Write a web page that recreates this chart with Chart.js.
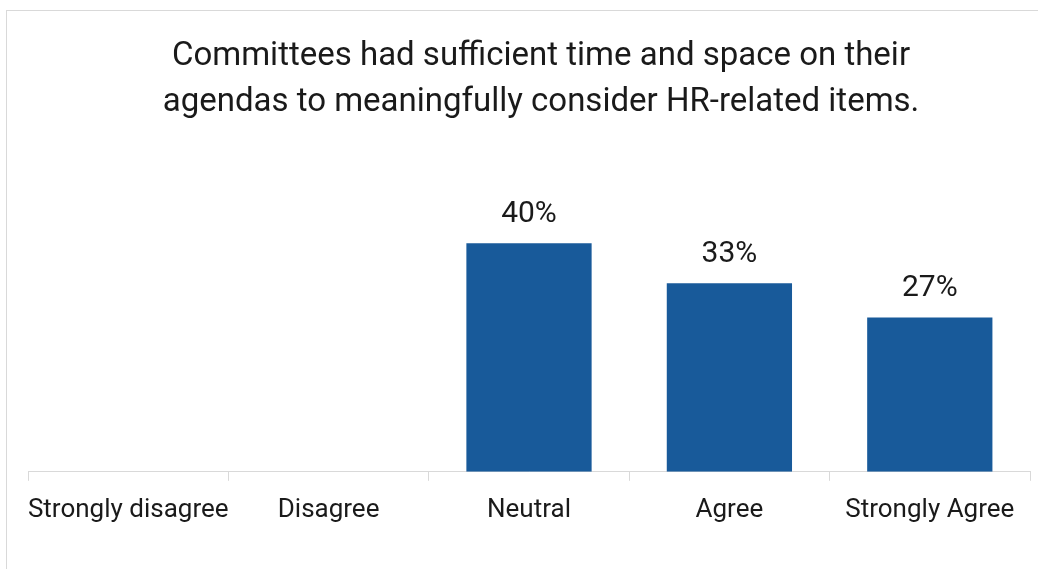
<!DOCTYPE html>
<html>
<head>
<meta charset="utf-8">
<script src="https://cdn.jsdelivr.net/npm/chart.js@4/dist/chart.umd.min.js"></script>
<style>
    body { margin: 0; background: #fff; overflow: hidden; }
    #frame {
        position: absolute; left: 6px; top: 10px;
        width: 1100px; height: 600px;
        border: 1px solid #d9d9d9;
    }
    #wrap { position: absolute; left: 0; top: 0; width: 1038px; height: 569px; }
</style>
</head>
<body>
<div id="frame"></div>
<div id="wrap"><canvas id="surveyChart"></canvas></div>
<script>
// Chart data
const titleLines = [
    'Committees had sufficient time and space on their',
    'agendas to meaningfully consider HR-related items.'
];
const categories = ['Strongly disagree', 'Disagree', 'Neutral', 'Agree', 'Strongly Agree'];
const percentValues = [null, null, 40, 33, 27];

const fontFamily = "Roboto, 'Noto Sans', sans-serif";
const textColor = '#1a1a1a';

// Title drawn by hand so it can sit centred on the frame rather than the plot
const titlePlugin = {
    id: 'frameTitle',
    afterDraw(chart) {
        const ctx = chart.ctx;
        ctx.save();
        ctx.font = '33px ' + fontFamily;
        ctx.fillStyle = textColor;
        ctx.textAlign = 'center';
        ctx.textBaseline = 'middle';
        titleLines.forEach((line, i) => {
            ctx.fillText(line, 541, 57 + i * 46);
        });
        ctx.restore();
    }
};

// Small plugin to write the % value above each bar
const valueLabels = {
    id: 'valueLabels',
    afterDatasetsDraw(chart) {
        const ctx = chart.ctx;
        const meta = chart.getDatasetMeta(0);
        ctx.save();
        ctx.font = '30px ' + fontFamily;
        ctx.fillStyle = textColor;
        ctx.textAlign = 'center';
        ctx.textBaseline = 'middle';
        meta.data.forEach((bar, i) => {
            const v = percentValues[i];
            if (v == null) return;
            ctx.fillText(v + '%', bar.x, bar.y - 29);
        });
        ctx.restore();
    }
};

const ctx = document.getElementById('surveyChart').getContext('2d');
new Chart(ctx, {
    type: 'bar',
    data: {
        labels: categories,
        datasets: [{
            data: percentValues,
            backgroundColor: '#185a9a',
            borderWidth: 0,
            categoryPercentage: 0.625,
            barPercentage: 1.0
        }]
    },
    options: {
        responsive: true,
        maintainAspectRatio: false,
        animation: false,
        layout: {
            padding: { left: 28, right: 8, top: 186, bottom: 29 }
        },
        plugins: {
            legend: { display: false },
            tooltip: { enabled: false },
            title: { display: false }
        },
        scales: {
            x: {
                offset: true,
                grid: {
                    offset: true,
                    drawOnChartArea: false,
                    drawTicks: true,
                    tickLength: 9,
                    color: '#d9d9d9'
                },
                border: { display: true, color: '#d9d9d9' },
                ticks: {
                    color: textColor,
                    padding: 14,
                    autoSkip: false,
                    minRotation: 0,
                    maxRotation: 0,
                    font: { family: fontFamily, size: 26 }
                }
            },
            y: {
                display: false,
                min: 0,
                max: 50
            }
        }
    },
    plugins: [valueLabels, titlePlugin]
});
</script>
</body>
</html>
